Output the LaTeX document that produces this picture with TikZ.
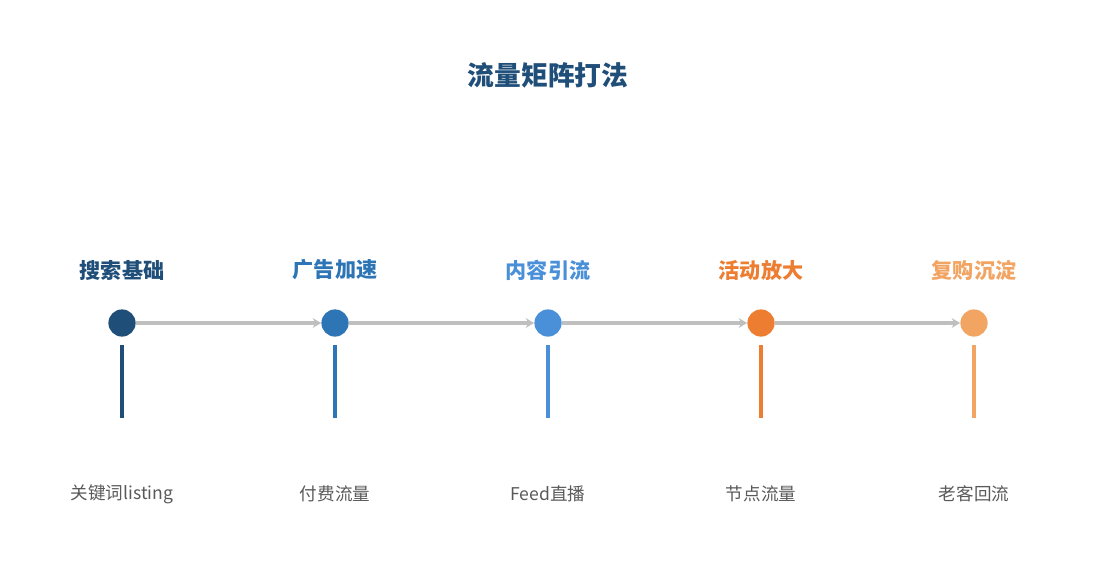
\documentclass[tikz,border=0pt]{standalone}
\usepackage{fontspec}
\setmainfont{Noto Sans CJK SC}
\usetikzlibrary{arrows.meta}
\definecolor{cA}{HTML}{1F4E79}
\definecolor{cB}{HTML}{2E75B6}
\definecolor{cC}{HTML}{4A90D9}
\definecolor{cD}{HTML}{ED7D31}
\definecolor{cE}{HTML}{F2A462}
\definecolor{linkgray}{HTML}{BFBFBF}
\definecolor{textgray}{HTML}{595959}
\tikzset{
  dot/.style={circle,fill=#1,minimum size=0.68cm,inner sep=0pt},
  step/.style={text=#1,font=\bfseries\fontsize{15}{18}\selectfont},
  note/.style={text=textgray,font=\fontsize{12.5}{15}\selectfont},
  link/.style={linkgray,line width=2.2pt,-{Stealth[length=6pt,width=7pt]}}
}
\begin{document}
\begin{tikzpicture}[x=0.025cm,y=-0.025cm]
\useasboundingbox (0,0) rectangle (1095,585);
\node[text=cA,font=\bfseries\fontsize{19}{22}\selectfont] (title) at (548,75) {流量矩阵打法};
% steps
\foreach \i/\x/\c/\h/\t in {1/122/cA/搜索基础/关键词\/listing,
                             2/335/cB/广告加速/付费流量,
                             3/548/cC/内容引流/Feed\/直播,
                             4/761/cD/活动放大/节点流量,
                             5/974/cE/复购沉淀/老客回流}{
  \node[step=\c] (h\i) at (\x,270) {\h};
  \coordinate (s\i) at (\x,345);
  \coordinate (e\i) at (\x,418);
  \draw[\c,line width=3pt] (s\i) -- (e\i);
  \node[note] (n\i) at (\x,494) {\t};
}
\foreach \i/\x/\c in {1/122/cA,2/335/cB,3/548/cC,4/761/cD,5/974/cE}
  \node[dot=\c] (d\i) at (\x,323) {};
\foreach \a/\b in {1/2,2/3,3/4,4/5}
  \draw[link] (d\a) -- (d\b);
\end{tikzpicture}
\end{document}
